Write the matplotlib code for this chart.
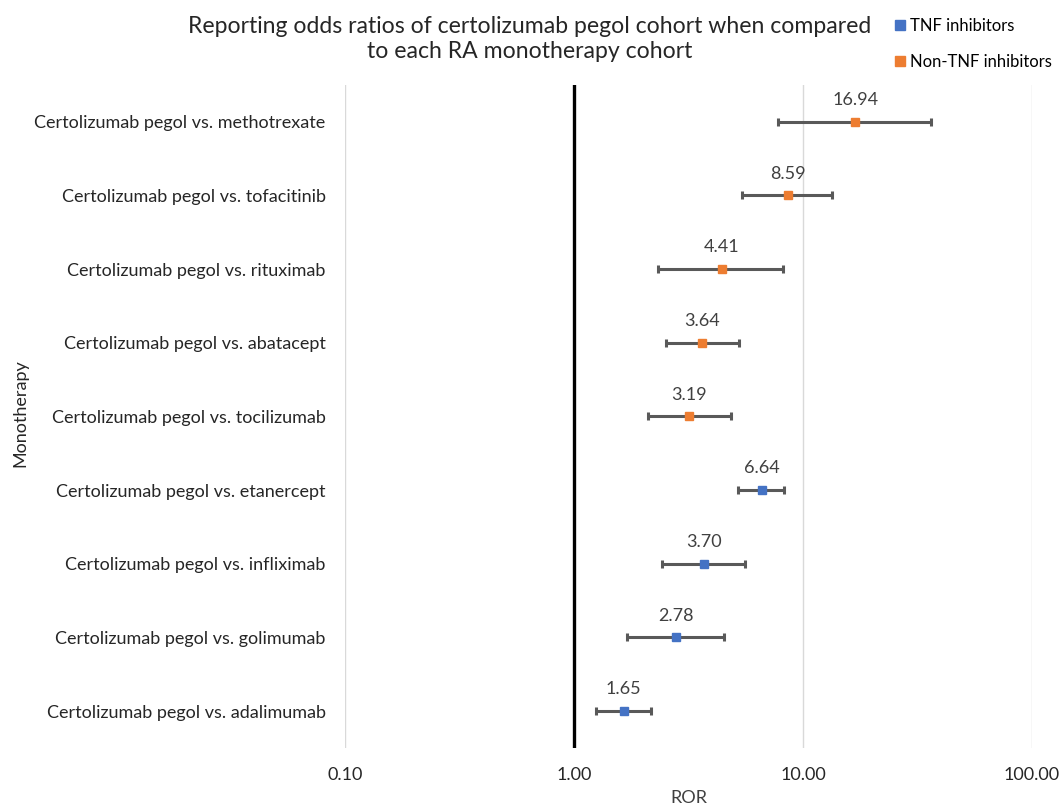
import numpy as np
import matplotlib.pyplot as plt
from matplotlib.lines import Line2D

plt.rcParams['font.family'] = ['Lato', 'DejaVu Sans']

# data, top to bottom as in the chart
comparisons = ['Certolizumab pegol vs. methotrexate',
               'Certolizumab pegol vs. tofacitinib',
               'Certolizumab pegol vs. rituximab',
               'Certolizumab pegol vs. abatacept',
               'Certolizumab pegol vs. tocilizumab',
               'Certolizumab pegol vs. etanercept',
               'Certolizumab pegol vs. infliximab',
               'Certolizumab pegol vs. golimumab',
               'Certolizumab pegol vs. adalimumab']
ror = [16.94, 8.59, 4.41, 3.64, 3.19, 6.64, 3.70, 2.78, 1.65]
ci_low = [7.8, 5.4, 2.33, 2.52, 2.11, 5.21, 2.43, 1.71, 1.25]
ci_high = [36.4, 13.4, 8.2, 5.27, 4.86, 8.28, 5.6, 4.53, 2.17]
group = ['Non-TNF', 'Non-TNF', 'Non-TNF', 'Non-TNF', 'Non-TNF',
         'TNF', 'TNF', 'TNF', 'TNF']

colors = {'TNF': '#4472C4', 'Non-TNF': '#ED7D31'}

fig = plt.figure(figsize=(10.63, 8.11), dpi=100)
ax = fig.add_axes([0.3246, 0.0777, 0.6462, 0.8175])

y = np.arange(len(comparisons))
ror_a = np.array(ror)
err = [ror_a - np.array(ci_low), np.array(ci_high) - ror_a]

ax.errorbar(ror_a, y, xerr=err, fmt='none', ecolor='#595959', elinewidth=2.2,
            capsize=3, capthick=2.2, zorder=3)
for i in range(len(y)):
    ax.plot(ror[i], y[i], marker='s', ms=5.5, color=colors[group[i]],
            linestyle='none', zorder=4)
    ax.annotate('%.2f' % ror[i], (ror[i], y[i]), xytext=(0, 10),
                textcoords='offset points', ha='center', va='bottom',
                fontsize=13, color='#404040')

ax.axvline(1, color='black', lw=2.4, zorder=2)

ax.set_xscale('log')
ax.set_xlim(0.1, 100)
ax.set_xticks([0.1, 1, 10, 100])
ax.set_xticklabels(['0.10', '1.00', '10.00', '100.00'])
ax.minorticks_off()
ax.grid(axis='x', color='#D9D9D9', lw=1)
ax.set_axisbelow(True)

ax.set_ylim(len(y) - 0.5, -0.5)
ax.set_yticks(y)
ax.set_yticklabels(comparisons)

ax.tick_params(axis='both', length=0, labelsize=13, colors='#262626')
ax.tick_params(axis='x', pad=14)
ax.tick_params(axis='y', pad=14)
for s in ax.spines.values():
    s.set_visible(False)

ax.set_xlabel('ROR', fontsize=13, color='#404040', labelpad=5)
fig.text(0.019, 0.49, 'Monotherapy', rotation=90, ha='center', va='center',
         fontsize=13, color='#262626')

fig.text(0.498, 0.952, 'Reporting odds ratios of certolizumab pegol cohort when compared\nto each RA monotherapy cohort',
         ha='center', va='center', fontsize=16.6, color='#262626', linespacing=1.2)

handles = [Line2D([], [], marker='s', ms=7, ls='none', color=colors['TNF']),
           Line2D([], [], marker='s', ms=7, ls='none', color=colors['Non-TNF'])]
fig.legend(handles, ['TNF inhibitors', 'Non-TNF inhibitors'], loc='upper left',
           bbox_to_anchor=(0.826, 0.994), frameon=False, fontsize=12,
           handletextpad=0.1, labelspacing=1.2, handlelength=1.0, borderpad=0.3)

fig.savefig('out.png', dpi=100)
